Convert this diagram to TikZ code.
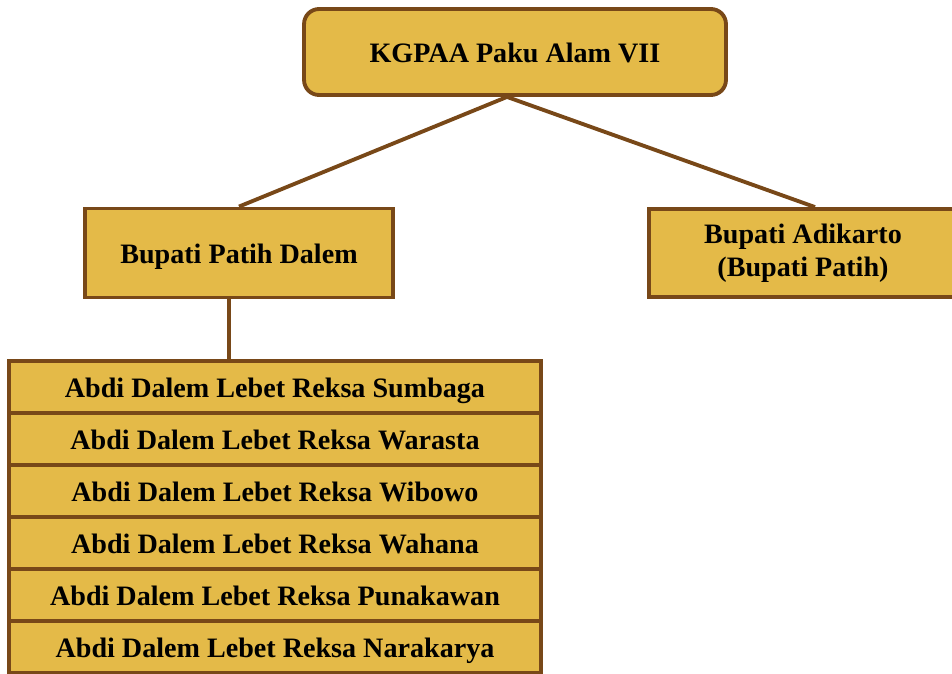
\documentclass[tikz,border=0pt]{standalone}
\usepackage{fontspec}
\setmainfont{Liberation Serif}
\definecolor{gold}{RGB}{228,186,72}
\definecolor{bark}{RGB}{120,72,24}
\begin{document}
\begin{tikzpicture}[x=0.02cm, y=-0.02cm,
  unit/.style={thick, shape=rectangle, draw=bark, fill=gold, line width=2.2pt, align=center, font=\fontsize{16}{18.5}\selectfont\bfseries},
  oneline/.style={text height=12.5pt, text depth=0.6pt},
  link/.style={draw=bark, line width=2.2pt}]
\useasboundingbox (0,0) rectangle (952,673);
\node[unit, oneline, rounded corners=0.3cm, minimum width=8.44cm, minimum height=1.72cm](raja) at (515,52) {KGPAA Paku Alam VII};
\node[unit, oneline, minimum width=6.16cm, minimum height=1.78cm](patih) at (239,253) {Bupati Patih Dalem};
\node[unit, minimum width=6.16cm, minimum height=1.76cm](adikarto) at (803,253) {Bupati Adikarto\\(Bupati Patih)};
\matrix[inner sep=0pt, row sep=-2.2pt, nodes={unit, oneline, outer sep=0pt, minimum width=10.64cm, minimum height=1.04cm}](abdi) at (275,517) {
\node(0) {Abdi Dalem Lebet Reksa Sumbaga}; \\
\node(1) {Abdi Dalem Lebet Reksa Warasta}; \\
\node(2) {Abdi Dalem Lebet Reksa Wibowo}; \\
\node(3) {Abdi Dalem Lebet Reksa Wahana}; \\
\node(4) {Abdi Dalem Lebet Reksa Punakawan}; \\
\node(5) {Abdi Dalem Lebet Reksa Narakarya}; \\
};
\draw[link] ([xshift=-0.16cm]raja.south) -- (patih.north);
\draw[link] ([xshift=-0.16cm]raja.south) -- ([xshift=0.24cm]adikarto.north);
\draw[link] ([xshift=-0.2cm]patih.south) -- ([xshift=-0.2cm]patih.south |- 0.north);
\end{tikzpicture}
\end{document}
